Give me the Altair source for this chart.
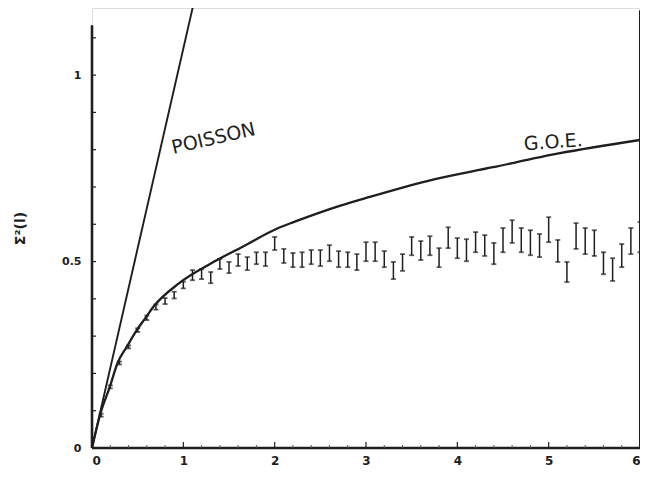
import altair as alt
import pandas as pd

# GOE curve
goe_L = [0.0, 0.087, 0.195, 0.28, 0.38, 0.49, 0.586, 0.67, 0.954, 1.31, 1.68, 2.04, 2.22, 2.5, 2.72, 3.02, 3.67, 4.39, 5.11, 6.0]
goe_S = [0.0, 0.088, 0.164, 0.228, 0.271, 0.316, 0.349, 0.378, 0.442, 0.496, 0.544, 0.590, 0.607, 0.632, 0.650, 0.672, 0.716, 0.753, 0.790, 0.826]

# Poisson line
poi_L = [0.0, 1.12]
poi_S = [0.0, 1.2]

# data points with error bars
pts_L = [round(0.1 * i, 1) for i in range(1, 61)]
pts_lo = [0.084, 0.160, 0.224, 0.267, 0.311, 0.343, 0.371, 0.386, 0.401, 0.428,
          0.450, 0.453, 0.442, 0.480, 0.469, 0.488, 0.477, 0.493, 0.488, 0.531,
          0.496, 0.485, 0.485, 0.493, 0.488, 0.501, 0.485, 0.485, 0.477, 0.501,
          0.501, 0.485, 0.453, 0.475, 0.517, 0.504, 0.517, 0.485, 0.536, 0.509,
          0.501, 0.525, 0.515, 0.493, 0.525, 0.550, 0.525, 0.517, 0.512, 0.552,
          0.499, 0.445, 0.534, 0.520, 0.515, 0.466, 0.448, 0.485, 0.520, 0.525]
pts_hi = [0.092, 0.168, 0.232, 0.275, 0.321, 0.355, 0.385, 0.402, 0.419, 0.446,
          0.477, 0.480, 0.472, 0.507, 0.499, 0.520, 0.512, 0.525, 0.525, 0.566,
          0.534, 0.523, 0.525, 0.531, 0.531, 0.544, 0.528, 0.525, 0.520, 0.552,
          0.552, 0.528, 0.499, 0.520, 0.566, 0.555, 0.568, 0.536, 0.592, 0.563,
          0.560, 0.579, 0.571, 0.550, 0.590, 0.611, 0.590, 0.584, 0.574, 0.619,
          0.558, 0.499, 0.603, 0.590, 0.584, 0.525, 0.509, 0.547, 0.590, 0.606]

# tick positions
y_minor = [round(0.1 * i, 1) for i in range(1, 12)]
x_major = [1, 2, 3, 4, 5]
x_minor = [round(0.2 * i, 1) for i in range(1, 30) if i % 5 != 0]

# annotations
ann_text = ["POISSON", "G.O.E."]
ann_L = [1.33, 5.05]
ann_S = [0.83, 0.82]
ann_angle = [347, 356]

INK = "#1e1e1e"
xs = alt.Scale(domain=[0, 6], nice=False, zero=False)
ys = alt.Scale(domain=[0, 1.18], nice=False, zero=False)

goe = pd.DataFrame({"L": goe_L, "S": goe_S})
poi = pd.DataFrame({"L": poi_L, "S": poi_S})
pts = pd.DataFrame({"L": pts_L, "lo": pts_lo, "hi": pts_hi})
ann = pd.DataFrame({"t": ann_text, "L": ann_L, "S": ann_S, "a": ann_angle})

label_font = "DejaVu Sans"

goe_line = alt.Chart(goe).mark_line(color=INK, strokeWidth=2.3, interpolate="monotone").encode(
    x=alt.X("L:Q", scale=xs, axis=alt.Axis(values=[0, 1, 2, 3, 4, 5, 6], format="d", title=None,
                                           domain=False, ticks=False, labelPadding=7,
                                           labelFont=label_font, labelFontWeight="bold",
                                           labelFontSize=12, labelColor=INK, grid=False)),
    y=alt.Y("S:Q", scale=ys, axis=alt.Axis(values=[0, 0.5, 1], format="~g", title="Σ²(l)",
                                           domain=False, ticks=False, labelPadding=11,
                                           labelFont=label_font, labelFontWeight="bold",
                                           labelFontSize=11, labelColor=INK, grid=False,
                                           titleFont=label_font, titleFontWeight="bold",
                                           titleFontSize=14, titleColor=INK, titlePadding=34)),
)

poi_line = alt.Chart(poi).mark_line(color=INK, strokeWidth=1.9, clip=True).encode(
    x=alt.X("L:Q", scale=xs), y=alt.Y("S:Q", scale=ys))

bars = alt.Chart(pts).mark_rule(color=INK, strokeWidth=1.5).encode(
    x=alt.X("L:Q", scale=xs), y=alt.Y("lo:Q", scale=ys), y2="hi:Q")
cap_lo = alt.Chart(pts).mark_tick(color=INK, orient="horizontal", size=5, thickness=1.8).encode(
    x=alt.X("L:Q", scale=xs), y=alt.Y("lo:Q", scale=ys))
cap_hi = alt.Chart(pts).mark_tick(color=INK, orient="horizontal", size=5, thickness=1.8).encode(
    x=alt.X("L:Q", scale=xs), y=alt.Y("hi:Q", scale=ys))

left_axis = alt.Chart(pd.DataFrame({"a": [0.0], "b": [1.134]})).mark_rule(color=INK, strokeWidth=2.6).encode(
    x=alt.value(0), y=alt.Y("a:Q", scale=ys), y2="b:Q")
right_frame = alt.Chart(pd.DataFrame({"x": [6.0], "a": [0.0], "b": [1.174]})).mark_rule(color=INK, strokeWidth=2.0).encode(
    x=alt.X("x:Q", scale=xs), y=alt.Y("a:Q", scale=ys), y2="b:Q")
bottom_axis = alt.Chart(pd.DataFrame({"a": [0.0], "b": [6.0]})).mark_rule(color=INK, strokeWidth=2.6).encode(
    y=alt.value(440), x=alt.X("a:Q", scale=xs), x2="b:Q")

yt = alt.Chart(pd.DataFrame({"v": y_minor})).mark_rule(color=INK, strokeWidth=1.2).encode(
    x=alt.value(0), x2=alt.value(4), y=alt.Y("v:Q", scale=ys))
xt = alt.Chart(pd.DataFrame({"v": x_major})).mark_rule(color=INK, strokeWidth=1.2).encode(
    y=alt.value(440), y2=alt.value(434), x=alt.X("v:Q", scale=xs))
xtm = alt.Chart(pd.DataFrame({"v": x_minor})).mark_rule(color="#555", strokeWidth=1).encode(
    y=alt.value(440), y2=alt.value(437), x=alt.X("v:Q", scale=xs))

texts = alt.Chart(ann).mark_text(color=INK, font="DejaVu Sans", fontSize=19).encode(
    x=alt.X("L:Q", scale=xs), y=alt.Y("S:Q", scale=ys), text="t:N", angle=alt.Angle("a:Q", scale=None))

chart = alt.layer(goe_line, poi_line, bars, cap_lo, cap_hi, left_axis, right_frame, bottom_axis,
                  yt, xt, xtm, texts).properties(
    width=548, height=440,
    autosize=alt.AutoSizeParams(type="none"),
    padding={"left": 84, "top": 0, "right": 0, "bottom": 22},
).configure_view(stroke=None).configure(background="white")

chart.save("out.html", embed_options={"renderer": "svg", "actions": False})
